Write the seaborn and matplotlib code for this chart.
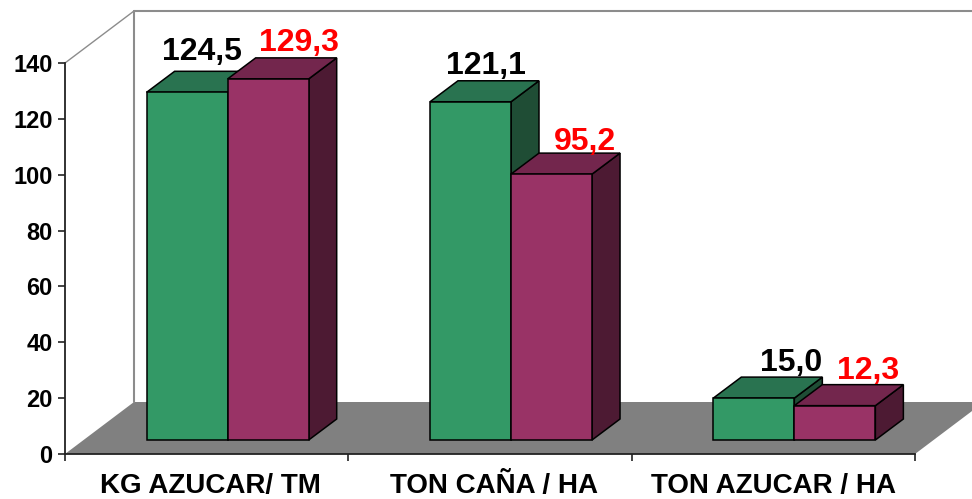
import matplotlib
matplotlib.use('Agg')
import matplotlib.pyplot as plt
from matplotlib.patches import Polygon
from matplotlib.lines import Line2D
from matplotlib.transforms import Affine2D, IdentityTransform
import seaborn as sns
import pandas as pd

categories = ['KG AZUCAR/ TM', 'TON CAÑA / HA', 'TON AZUCAR / HA']
series_names = ['A', 'B']
series_a = [124.5, 121.1, 15.0]
series_b = [129.3, 95.2, 12.3]
y_ticks = [0, 20, 40, 60, 80, 100, 120, 140]

# front, top, side colours of each series
front_colors = ['#339966', '#993366']
top_colors = ['#297350', '#73264D']
side_colors = ['#1F4D35', '#4D1A33']
label_colors = ['black', 'red']

# pixel offsets for the fake 3d look
WALL_DX, WALL_DY = 69, 52
BAR_DX, BAR_DY = 21, 14
DEPTH_DX, DEPTH_DY = 28, 21
label_shift = [[15, 31], [15, 33], [37, 33]]
label_gap = [[11, 7], [7, 3], [6, 6]]
category_shift = [4, 4, 0]

sns.set_style('white')
plt.rcParams['font.family'] = ['Liberation Sans', 'DejaVu Sans']
plt.rcParams['font.weight'] = 'bold'

df = pd.DataFrame({
    'category': categories * 2,
    'series': [series_names[0]] * 3 + [series_names[1]] * 3,
    'value': series_a + series_b,
})

fig = plt.figure(figsize=(9.72, 4.99), dpi=100)
ax = fig.add_axes([65 / 972, (499 - 454) / 499, 850 / 972, 391 / 499])
ax.patch.set_alpha(0)

sns.barplot(data=df, x='category', y='value', hue='series', order=categories,
            hue_order=series_names, palette=front_colors, width=0.572,
            saturation=1, edgecolor='black', linewidth=1.1, legend=False, ax=ax)
ax.set_xlim(-0.5, 2.5)
ax.set_ylim(0, 140)
ax.set_xlabel('')
ax.set_ylabel('')
sns.despine(ax=ax)
for side in ['left', 'bottom']:
    ax.spines[side].set_linewidth(1.3)
    ax.spines[side].set_color('#222222')
    ax.spines[side].set_zorder(50)

ax.set_yticks(y_ticks)
ax.set_xticks([-0.5, 0.5, 1.5, 2.5], minor=True)
ax.tick_params(axis='y', length=5, width=1.2, color='#222222', left=True, pad=4, labelsize=17)
ax.tick_params(axis='x', which='minor', length=5, width=1.2, color='#222222', bottom=True)
ax.tick_params(axis='x', which='major', length=0, pad=14, labelsize=20)
for lab in ax.get_xticklabels() + ax.get_yticklabels():
    lab.set_fontweight('bold')
    lab.set_color('black')
for lab, dx in zip(ax.get_xticklabels(), category_shift):
    lab.set_transform(lab.get_transform() + Affine2D().translate(dx, 0))

# floor and back wall
x0, y0 = ax.transData.transform((-0.5, 0))
x1, _ = ax.transData.transform((2.5, 0))
_, ytop = ax.transData.transform((-0.5, 140))
floor = [(x0, y0), (x0 + WALL_DX, y0 + WALL_DY), (x1 + WALL_DX, y0 + WALL_DY), (x1, y0)]
ax.add_patch(Polygon(floor, closed=True, facecolor='#808080', edgecolor='none',
                     transform=IdentityTransform(), clip_on=False, zorder=1))
ax.add_line(Line2D([x0, x0 + WALL_DX], [ytop, ytop + WALL_DY], color='#8c8c8c', lw=1,
                   transform=IdentityTransform(), clip_on=False, zorder=1))
ax.add_line(Line2D([x0 + WALL_DX, x0 + WALL_DX], [ytop + WALL_DY, y0 + WALL_DY], color='#8c8c8c',
                   lw=1.5, transform=IdentityTransform(), clip_on=False, zorder=1))
ax.add_line(Line2D([x0 + WALL_DX, x1 + WALL_DX], [ytop + WALL_DY, ytop + WALL_DY], color='#8c8c8c',
                   lw=1.5, transform=IdentityTransform(), clip_on=False, zorder=1))

# bars get moved into the floor, then side and top faces are added
shift = Affine2D().translate(BAR_DX, BAR_DY)
bars = []
for s, container in enumerate(ax.containers):
    for c, bar in enumerate(container):
        bars.append((c, s, bar))
bars.sort(key=lambda b: (b[0], b[1]))

z = 5
for c, s, bar in bars:
    left, bottom = ax.transData.transform((bar.get_x(), 0))
    right, top = ax.transData.transform((bar.get_x() + bar.get_width(), bar.get_height()))
    left, right = left + BAR_DX, right + BAR_DX
    bottom, top = bottom + BAR_DY, top + BAR_DY

    side_face = [(right, bottom), (right + DEPTH_DX, bottom + DEPTH_DY),
                 (right + DEPTH_DX, top + DEPTH_DY), (right, top)]
    top_face = [(left, top), (left + DEPTH_DX, top + DEPTH_DY),
                (right + DEPTH_DX, top + DEPTH_DY), (right, top)]
    ax.add_patch(Polygon(side_face, closed=True, facecolor=side_colors[s], edgecolor='black', lw=1.1,
                         transform=IdentityTransform(), clip_on=False, zorder=z))
    ax.add_patch(Polygon(top_face, closed=True, facecolor=top_colors[s], edgecolor='black', lw=1.1,
                         transform=IdentityTransform(), clip_on=False, zorder=z + 1))
    bar.set_transform(ax.transData + shift)
    bar.set_clip_on(False)
    bar.set_zorder(z + 2)
    z += 3

    value = [series_a, series_b][s][c]
    ax.text((left + right) / 2 + label_shift[c][s], top + DEPTH_DY + label_gap[c][s],
            f'{value:.1f}'.replace('.', ','), color=label_colors[s], fontsize=23,
            fontweight='bold', ha='center', va='baseline', transform=IdentityTransform(), zorder=60)

fig.savefig('out.png', dpi=100)
